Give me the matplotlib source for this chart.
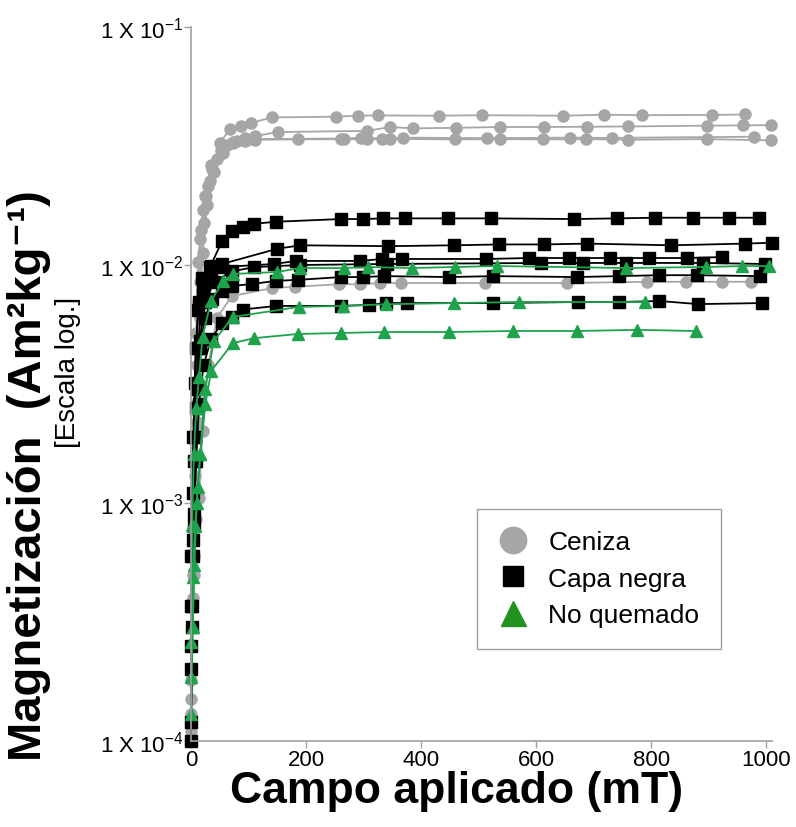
import matplotlib
matplotlib.use("Agg")
import matplotlib.pyplot as plt
from matplotlib.lines import Line2D
from matplotlib.patches import Rectangle
from matplotlib.ticker import NullLocator

plt.rcParams['font.family'] = ['Liberation Sans', 'DejaVu Sans']
plt.rcParams['mathtext.fontset'] = 'custom'
plt.rcParams['mathtext.rm'] = 'Liberation Sans'
plt.rcParams['mathtext.bf'] = 'Liberation Sans:bold'

# Ceniza (ash) - gray circles
cen_a_x = [0, 3, 6, 9, 12, 16, 21, 26, 33, 37, 50, 68, 87, 104, 141, 252, 290, 325, 431, 506, 647, 718, 784, 906, 963]
cen_a_y = [1.3e-4, 5.0e-4, 1.9e-3, 5.2e-3, 0.0103, 0.0128, 0.0170, 0.0195, 0.0225, 0.0253, 0.0327, 0.0371,
           0.0385, 0.0395, 0.0417, 0.0420, 0.0424, 0.0425, 0.0424, 0.0426, 0.0424, 0.0428, 0.0426, 0.0427, 0.0429]
cen_b_x = [0, 4, 8, 12, 17, 24, 35, 52, 73, 94, 111, 151, 306, 346, 386, 461, 537, 614, 689, 760, 897, 960, 1009]
cen_b_y = [1.8e-4, 7.0e-4, 2.6e-3, 7.0e-3, 0.0140, 0.0195, 0.0262, 0.0305, 0.0330, 0.0342, 0.0348, 0.0362,
           0.0366, 0.0380, 0.0375, 0.0377, 0.0380, 0.0380, 0.0381, 0.0382, 0.0385, 0.0386, 0.0387]
cen_c_x = [0, 5, 10, 15, 20, 28, 40, 55, 73, 94, 111, 186, 266, 306, 346, 459, 537, 612, 687, 760, 897, 1009]
cen_c_y = [1.2e-4, 6.0e-4, 2.2e-3, 6.0e-3, 0.0112, 0.0178, 0.0245, 0.0295, 0.0325, 0.0332, 0.0336, 0.0337,
           0.0338, 0.0337, 0.0339, 0.0337, 0.0338, 0.0337, 0.0338, 0.0336, 0.0338, 0.0334]
cen_d_x = [0, 3, 7, 11, 16, 22, 30, 45, 62, 80, 104, 261, 296, 332, 369, 515, 659, 731, 979]
cen_d_y = [1.5e-4, 4.0e-4, 1.3e-3, 3.8e-3, 8.5e-3, 0.0150, 0.0215, 0.0280, 0.0318, 0.0332, 0.0338, 0.0340,
           0.0342, 0.0340, 0.0343, 0.0341, 0.0343, 0.0342, 0.0346]
cen_e_x = [0, 2, 5, 9, 14, 20, 30, 45, 71, 141, 181, 257, 294, 329, 365, 511, 654, 793, 861, 923, 974]
cen_e_y = [1.1e-4, 3.0e-4, 5.0e-4, 8.6e-4, 1.05e-3, 2.0e-3, 3.8e-3, 6.0e-3, 0.0074, 0.0080, 0.0081, 0.0083,
           0.0083, 0.0084, 0.0084, 0.0084, 0.0084, 0.0085, 0.0085, 0.0085, 0.0085]

# Capa negra (black layer) - black squares
neg1_x = [0, 3, 7, 12, 19, 33, 54, 71, 90, 110, 148, 261, 299, 334, 372, 447, 522, 666, 741, 807, 873, 936, 988]
neg1_y = [3.7e-4, 1.1e-3, 3.2e-3, 6.5e-3, 8.8e-3, 0.0098, 0.0126, 0.0139, 0.0145, 0.0149, 0.0152, 0.0156,
          0.0156, 0.0157, 0.0157, 0.0157, 0.0157, 0.0156, 0.0157, 0.0158, 0.0158, 0.0158, 0.0158]
neg2_x = [0, 3, 7, 12, 20, 35, 54, 150, 190, 343, 457, 536, 614, 689, 835, 963, 1010]
neg2_y = [2.0e-4, 6.0e-4, 1.9e-3, 4.5e-3, 7.5e-3, 9.9e-3, 0.0101, 0.0117, 0.0121, 0.0120, 0.0121, 0.0122,
          0.0122, 0.0123, 0.0121, 0.0123, 0.0124]
neg3_x = [0, 4, 8, 14, 21, 35, 54, 144, 183, 294, 332, 367, 513, 588, 657, 729, 797, 863, 923]
neg3_y = [6.0e-4, 1.9e-3, 4.5e-3, 7.0e-3, 8.0e-3, 9.3e-3, 9.8e-3, 0.0101, 0.0104, 0.0104, 0.0106, 0.0106,
          0.0106, 0.0107, 0.0107, 0.0107, 0.0107, 0.0107, 0.0108]
neg4_x = [0, 2, 5, 9, 15, 25, 40, 71, 110, 190, 341, 609, 682, 757, 890, 998]
neg4_y = [1.0e-4, 3.0e-4, 9.0e-4, 2.5e-3, 4.8e-3, 7.0e-3, 8.5e-3, 9.4e-3, 9.8e-3, 0.0100, 0.0101, 0.0102,
          0.0102, 0.0102, 0.0102, 0.0101]
neg5_x = [0, 3, 6, 10, 16, 24, 37, 54, 71, 106, 148, 186, 261, 299, 336, 449, 525, 671, 744, 814, 880, 990]
neg5_y = [2.5e-4, 7.0e-4, 1.5e-3, 3.0e-3, 4.5e-3, 6.0e-3, 7.2e-3, 7.8e-3, 0.00816, 0.00832, 0.00858, 0.00866,
          0.00890, 0.00890, 0.00898, 0.00890, 0.00898, 0.00890, 0.00898, 0.00906, 0.00906, 0.00898]
neg6_x = [0, 2, 5, 9, 14, 22, 35, 54, 71, 90, 148, 261, 310, 339, 376, 525, 673, 744, 814, 882, 993]
neg6_y = [1.2e-4, 3.7e-4, 8.0e-4, 1.5e-3, 2.6e-3, 3.8e-3, 4.9e-3, 0.0057, 0.00605, 0.0065, 0.00673, 0.00673,
          0.00680, 0.00692, 0.00692, 0.00692, 0.00699, 0.00699, 0.00706, 0.00685, 0.00692]

# No quemado (unburnt) - green triangles
noq1_x = [0, 2, 5, 9, 14, 20, 35, 56, 73, 150, 190, 266, 308, 384, 459, 532, 757, 896, 958, 1005]
noq1_y = [2.6e-4, 8.1e-4, 1.6e-3, 2.5e-3, 3.4e-3, 5.0e-3, 0.00706, 0.00857, 0.00917, 0.00935, 0.00971,
          0.00971, 0.00981, 0.00971, 0.00981, 0.00990, 0.00971, 0.00981, 0.00990, 0.00990]
noq2_x = [0, 3, 7, 12, 16, 24, 40, 73, 188, 264, 339, 457, 570, 790]
noq2_y = [1.85e-4, 4.9e-4, 8.0e-4, 1.17e-3, 1.6e-3, 3.0e-3, 4.8e-3, 0.00605, 0.00667, 0.00673, 0.00684,
          0.00692, 0.00699, 0.00699]
noq3_x = [0, 3, 6, 10, 16, 25, 35, 73, 110, 186, 261, 336, 449, 560, 671, 776, 878]
noq3_y = [1.3e-4, 3.0e-4, 5.5e-4, 1.0e-3, 1.6e-3, 2.6e-3, 3.59e-3, 4.70e-3, 4.93e-3, 5.13e-3, 5.18e-3,
          5.23e-3, 5.23e-3, 5.28e-3, 5.28e-3, 5.34e-3, 5.28e-3]

ceniza = [(cen_a_x, cen_a_y), (cen_b_x, cen_b_y), (cen_c_x, cen_c_y), (cen_d_x, cen_d_y), (cen_e_x, cen_e_y)]
negra = [(neg1_x, neg1_y), (neg2_x, neg2_y), (neg3_x, neg3_y), (neg4_x, neg4_y), (neg5_x, neg5_y), (neg6_x, neg6_y)]
noquem = [(noq1_x, noq1_y), (noq2_x, noq2_y), (noq3_x, noq3_y)]

y_ticks = [1e-4, 1e-3, 1e-2, 1e-1]
y_labels = ['1 X 10$^{-4}$', '1 X 10$^{-3}$', '1 X 10$^{-2}$', '1 X 10$^{-1}$']
x_ticks = [0, 200, 400, 600, 800, 1000]

gray = '#a6a6a6'
green = '#1ea34c'
axcol = '#a0a0a0'

fig = plt.figure(figsize=(7.96, 8.28), dpi=100)
ax = fig.add_axes([191 / 796, 1 - 742 / 828, (772 - 191) / 796, (742 - 28) / 828])

for xs, ys in ceniza:
    ax.plot(xs, ys, color=gray, lw=1.3, marker='o', ms=8, mec=gray, mfc=gray, clip_on=False)
for xs, ys in negra:
    ax.plot(xs, ys, color='black', lw=1.3, marker='s', ms=8, mec='black', mfc='black', clip_on=False)
for xs, ys in noquem:
    ax.plot(xs, ys, color=green, lw=1.3, marker='^', ms=8.5, mec=green, mfc=green, clip_on=False)

ax.set_yscale('log')
ax.set_ylim(1e-4, 1e-1)
ax.set_xlim(0, 1010)
ax.yaxis.set_minor_locator(NullLocator())
ax.set_yticks(y_ticks)
ax.set_yticklabels(y_labels)
ax.set_xticks(x_ticks)
ax.tick_params(axis='y', labelsize=16, length=5, width=1, color=axcol, pad=0.5)
ax.tick_params(axis='x', labelsize=16, length=5, width=1, color=axcol, pad=1)
for s in ['top', 'right']:
    ax.spines[s].set_visible(False)
for s in ['left', 'bottom']:
    ax.spines[s].set_color(axcol)
    ax.spines[s].set_linewidth(1.2)

# legend box
fig.add_artist(Rectangle((477 / 796, 1 - 650 / 828), 244 / 796, 140 / 828, transform=fig.transFigure,
                         facecolor='white', edgecolor=axcol, lw=1, zorder=5))
handles = [
    Line2D([], [], ls='none', marker='o', ms=19, color=gray),
    Line2D([], [], ls='none', marker='s', ms=15, color='black'),
    Line2D([], [], ls='none', marker='^', ms=18, color='#1f921f'),
]
leg = fig.legend(handles, ['Ceniza', 'Capa negra', 'No quemado'], loc='upper left',
                 bbox_to_anchor=(496 / 796, 1 - 531 / 828), borderaxespad=0, borderpad=0,
                 fontsize=19, frameon=False, labelspacing=0.48, handlelength=1.3,
                 handletextpad=0.68)
leg.set_zorder(6)

fig.text(457 / 796, 1 - 803 / 828, 'Campo aplicado (mT)', ha='center', va='baseline',
         fontsize=32, fontweight='bold')
fig.text(29 / 796, 1 - 476 / 828, 'Magnetización  (Am²kg⁻¹)',
         ha='center', va='center', rotation=90, fontsize=34, fontweight='bold')
fig.text(68 / 796, 1 - 372 / 828, '[Escala log.]', ha='center', va='center', rotation=90, fontsize=20)

fig.savefig('out.png', dpi=100)
